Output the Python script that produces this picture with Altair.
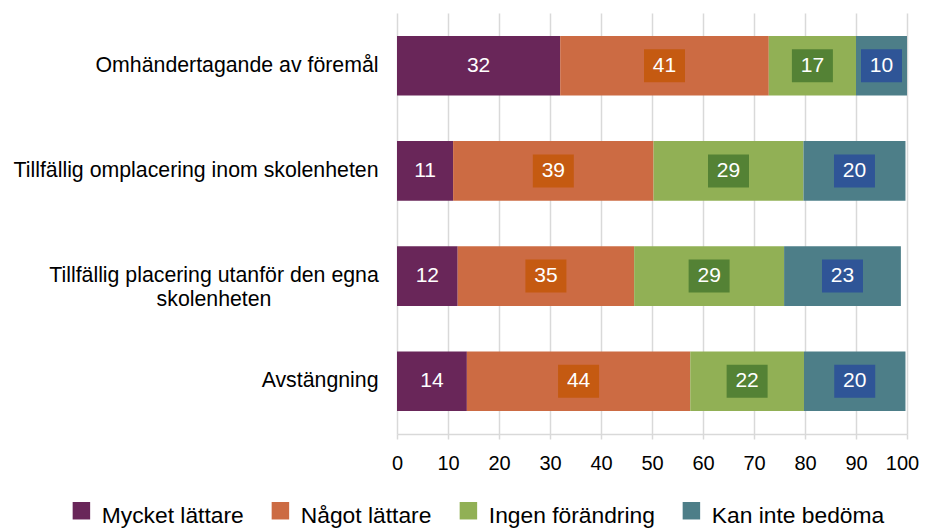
import altair as alt
import pandas as pd

# ---- data ----
categories = [
    "Omhändertagande av föremål",
    "Tillfällig omplacering inom skolenheten",
    "Tillfällig placering utanför den egna\nskolenheten",
    "Avstängning",
]
series = ["Mycket lättare", "Något lättare", "Ingen förändring", "Kan inte bedöma"]
mycket_lattare = [32.0, 11.0, 11.9, 13.7]
nagot_lattare = [40.9, 39.3, 34.6, 43.8]
ingen_forandring = [17.1, 29.4, 29.4, 22.3]
kan_inte_bedoma = [10.0, 20.0, 22.9, 19.9]
x_ticks = [0, 10, 20, 30, 40, 50, 60, 70, 80, 90, 100]

# ---- styles ----
bar_colors = ["#692659", "#cc6b43", "#91b055", "#4d7e88"]
box_colors = ["#c55a11", "#548235", "#2f5597"]
FONT = "Liberation Sans"

rows = []
for s_i, (s, vals) in enumerate(zip(series, [mycket_lattare, nagot_lattare, ingen_forandring, kan_inte_bedoma])):
    for c, v in zip(categories, vals):
        rows.append({"kategori": c, "svar": s, "ordning": s_i, "andel": v})
df = pd.DataFrame(rows)

base = alt.Chart(df).transform_stack(
    stack="andel",
    groupby=["kategori"],
    as_=["x0", "x1"],
    sort=[alt.SortField("ordning", order="ascending")],
).transform_calculate(mid="(datum.x0 + datum.x1) / 2")

wrap_test = "indexof(datum.label, '\\n') >= 0"

y_enc = alt.Y(
    "kategori:N",
    sort=categories,
    title=None,
    scale=alt.Scale(paddingInner=0.432, paddingOuter=0.2176),
    axis=alt.Axis(
        domain=False,
        ticks=False,
        tickSize=0,
        grid=False,
        labelFont=FONT,
        labelFontSize=21.3,
        labelColor="#000000",
        labelLimit=700,
        labelLineHeight=24,
        labelExpr="split(datum.label, '\\n')",
        labelAlign={"condition": {"test": wrap_test, "value": "center"}, "value": "right"},
        labelPadding={"condition": {"test": wrap_test, "value": 183.5}, "value": 19},
    ),
)

x_scale = alt.Scale(domain=[0, 100], nice=False, zero=True)

bars = base.mark_bar().encode(
    x=alt.X(
        "x0:Q",
        scale=x_scale,
        title=None,
        axis=alt.Axis(
            values=x_ticks,
            grid=True,
            gridColor="#d9d9d9",
            gridWidth=1.5,
            domainColor="#d9d9d9",
            domainWidth=1.5,
            tickColor="#d9d9d9",
            tickWidth=1.5,
            tickSize=5,
            labelFont=FONT,
            labelFontSize=20,
            labelColor="#000000",
            labelPadding=14,
            labelFlush=False,
            labelOverlap=False,
            labelOffset={"condition": {"test": "datum.value == 100", "value": -5}, "value": 0},
        ),
    ),
    x2="x1:Q",
    y=y_enc,
    color=alt.Color(
        "svar:N",
        scale=alt.Scale(domain=series, range=bar_colors),
        sort=series,
        legend=alt.Legend(
            title=None,
            orient="none",
            legendX=-327,
            legendY=491,
            direction="horizontal",
            symbolType="M-1,-1.58H1V0.42H-1Z",
            symbolSize=306,
            symbolStrokeWidth=0,
            labelFont=FONT,
            labelFontSize=22.8,
            labelColor="#000000",
            labelOffset=9,
            labelLimit=400,
            columnPadding=25,
            padding=0,
        ),
    ),
)

boxes = base.transform_filter("datum.ordning > 0").mark_point(
    shape="M-1.242,-1H1.242V1H-1.242Z",
    filled=True,
    size=1089,
    opacity=1,
    strokeWidth=0,
).encode(
    x=alt.X("mid:Q", scale=x_scale, title=None),
    y=y_enc,
    fill=alt.Fill("svar:N", scale=alt.Scale(domain=series[1:], range=box_colors), legend=None),
)

labels = base.mark_text(
    color="white", font=FONT, fontSize=21, baseline="middle", align="center"
).encode(
    x=alt.X("mid:Q", scale=x_scale, title=None),
    y=y_enc,
    text=alt.Text("andel:Q", format=".0f"),
)

chart = (
    alt.layer(bars, boxes, labels)
    .properties(
        width=510,
        height=421,
        background="white",
        padding={"left": 5, "top": 5, "right": 0, "bottom": 0},
    )
    .configure_view(stroke=None)
)

chart.save("out.html", embed_options={"renderer": "svg", "actions": False})
